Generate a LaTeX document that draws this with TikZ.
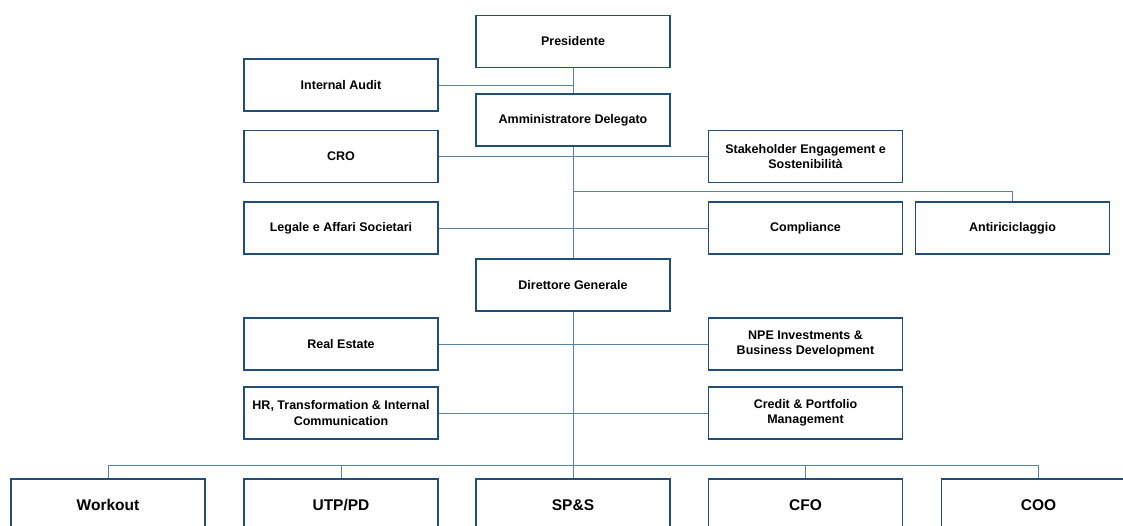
\documentclass[tikz,border=0pt]{standalone}
\usepackage{fontspec}
\setmainfont{Liberation Sans}
\usepackage{tikz}
\usetikzlibrary{backgrounds}

\definecolor{boxblue}{RGB}{31,78,121}
\definecolor{lineblue}{RGB}{84,130,170}

\tikzset{
  orgbox/.style={draw=boxblue, line width=1.6pt, fill=white, minimum width=194pt,
    minimum height=52pt, inner sep=2pt, align=center, font=\bfseries\fontsize{12.5}{15.5}\selectfont},
  bigbox/.style={orgbox, font=\bfseries\fontsize{15.5}{18}\selectfont},
  link/.style={draw=lineblue, line width=0.9pt}
}

\begin{document}
\begin{tikzpicture}[x=1pt,y=-1pt]
            \clip (0,0) rectangle (1123,525);

            % top management
            \node[orgbox] (pres) at (573,41.5) {Presidente};
            \node[orgbox] (audit) at (341,85) {Internal Audit};
            \node[orgbox] (ad) at (573,120) {Amministratore Delegato};
            \node[orgbox] (cro) at (341,156.5) {CRO};
            \node[orgbox] (seng) at (805.5,156.5) {Stakeholder Engagement e\\Sostenibilità};
            \node[orgbox] (legal) at (341,228) {Legale e Affari Societari};
            \node[orgbox] (compl) at (805.5,228) {Compliance};
            \node[orgbox] (anti) at (1012.5,228) {Antiriciclaggio};
            \node[orgbox] (dg) at (573,285) {Direttore Generale};
            % staff
            \node[orgbox] (realest) at (341,344) {Real Estate};
            \node[orgbox] (npe) at (805.5,344) {NPE Investments \&\\Business Development};
            \node[orgbox] (hr) at (341,413) {HR, Transformation \& Internal\\Communication};
            \node[orgbox] (credit) at (805.5,413) {Credit \& Portfolio\\Management};
            % business lines
            \node[bigbox] (work) at (108,505) {Workout};
            \node[bigbox] (utp) at (341,505) {UTP/PD};
            \node[bigbox] (sps) at (573,505) {SP\&S};
            \node[bigbox] (cfo) at (805.5,505) {CFO};
            \node[bigbox] (coo) at (1038.5,505) {COO};

            \coordinate (split) at (573,191);
            \coordinate (bus) at (573,465);

            \begin{scope}[on background layer]
             \fill[white] (0,0) rectangle (1123,525);
             %links
                 \draw[link] (pres.south) -- (ad.north);
                 \draw[link] (audit.east) -- (audit.east -| pres.south);
                 \draw[link] (ad.south) -- (dg.north);
                 \draw[link] (cro.east) -- (seng.west);
                 \draw[link] (split) -| (anti.north);
                 \draw[link] (legal.east) -- (compl.west);
                 \draw[link] (realest.east) -- (npe.west);
                 \draw[link] (hr.east) -- (credit.west);
                 \draw[link] (dg.south) -- (bus);
                 \foreach \b in {work,utp,sps,cfo,coo}
                     \draw[link] (\b.north) |- (bus);
            \end{scope}
\end{tikzpicture}
\end{document}
